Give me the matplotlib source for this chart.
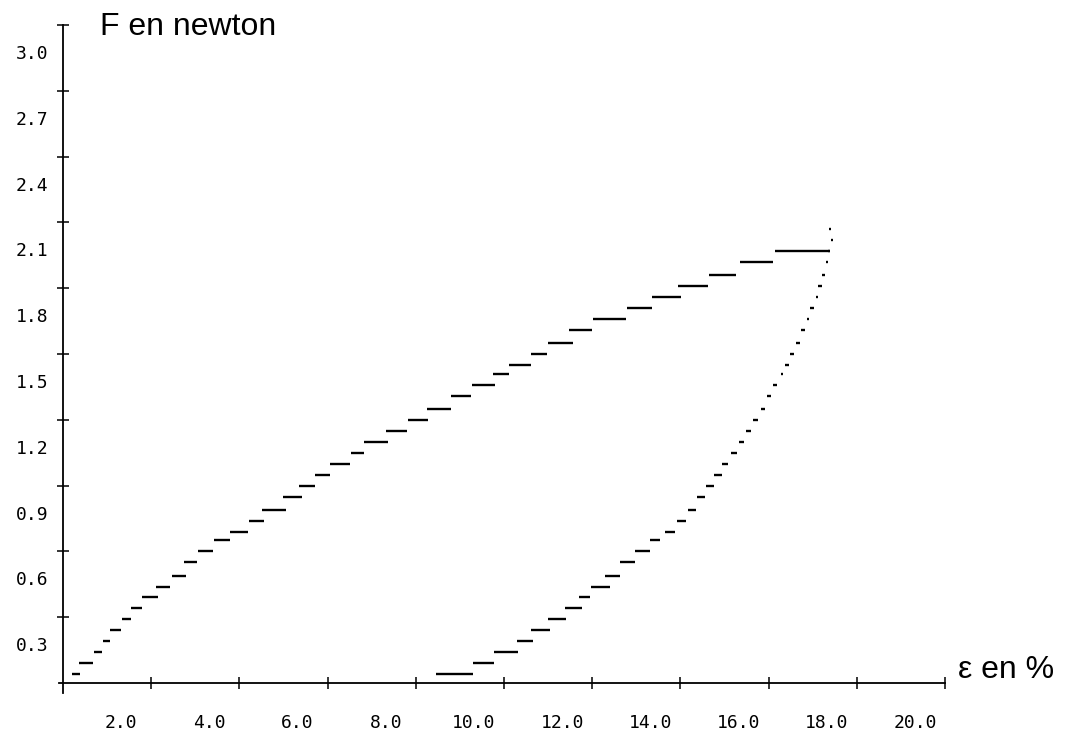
import matplotlib
matplotlib.use("Agg")
import matplotlib.pyplot as plt

# loading branch: force level (N) and strain range (%) of each plotter step
load_force = [0.04, 0.09, 0.14, 0.19, 0.24, 0.29, 0.34, 0.39, 0.44, 0.49,
              0.55, 0.60, 0.65, 0.69, 0.74, 0.79, 0.85, 0.90, 0.95, 1.00,
              1.05, 1.10, 1.15, 1.20, 1.25, 1.31, 1.36, 1.41, 1.45, 1.50,
              1.55, 1.61, 1.66, 1.71, 1.76, 1.81, 1.86, 1.92, 1.97]
load_start = [0.20, 0.36, 0.70, 0.91, 1.07, 1.34, 1.54, 1.79, 2.11, 2.47,
              2.74, 3.06, 3.42, 3.79, 4.22, 4.51, 4.99, 5.35, 5.71, 6.05,
              6.53, 6.83, 7.32, 7.82, 8.25, 8.80, 9.27, 9.75, 10.11, 10.61,
              11.00, 11.47, 12.02, 12.79, 13.36, 13.95, 14.65, 15.35, 16.15]
load_end = [0.39, 0.68, 0.88, 1.07, 1.32, 1.54, 1.79, 2.15, 2.43, 2.79,
            3.04, 3.40, 3.79, 4.20, 4.56, 5.06, 5.42, 5.71, 6.05, 6.51,
            6.83, 7.37, 7.80, 8.28, 8.80, 9.25, 9.80, 10.11, 10.61, 10.98,
            11.56, 12.00, 12.77, 13.36, 14.01, 14.63, 15.26, 16.10, 17.39]

# unloading branch
unload_force = [2.07, 2.02, 1.97, 1.92, 1.86, 1.81, 1.76, 1.71, 1.66, 1.61,
                1.55, 1.50, 1.45, 1.41, 1.36, 1.31, 1.25, 1.20, 1.15, 1.10,
                1.05, 1.00, 0.95, 0.90, 0.85, 0.79, 0.74, 0.69, 0.65, 0.60,
                0.55, 0.49, 0.44, 0.39, 0.34, 0.29, 0.24, 0.19, 0.14, 0.09, 0.04]
unload_start = [17.37, 17.41, 17.35, 17.30, 17.21, 17.12, 17.07, 16.94, 16.87, 16.73,
                16.62, 16.49, 16.37, 16.28, 16.10, 15.96, 15.83, 15.65, 15.49, 15.33,
                15.15, 14.94, 14.76, 14.58, 14.38, 14.17, 13.92, 13.65, 13.31, 12.97,
                12.63, 12.29, 11.97, 11.70, 11.38, 11.00, 10.61, 10.29, 9.77, 9.30, 8.46]
unload_end = [17.41, 17.46, 17.39, 17.35, 17.28, 17.21, 17.12, 17.03, 16.92, 16.82,
              16.71, 16.58, 16.46, 16.33, 16.19, 16.05, 15.92, 15.76, 15.60, 15.44,
              15.28, 15.08, 14.94, 14.76, 14.56, 14.35, 14.13, 13.88, 13.54, 13.31,
              12.97, 12.63, 12.40, 11.95, 11.77, 11.41, 11.04, 10.66, 10.32, 9.77, 9.30]

x_ticks = [2, 4, 6, 8, 10, 12, 14, 16, 18, 20]
x_labels = ["2.0", "4.0", "6.0", "8.0", "10.0", "12.0", "14.0", "16.0", "18.0", "20.0"]
y_ticks = [0.3, 0.6, 0.9, 1.2, 1.5, 1.8, 2.1, 2.4, 2.7, 3.0]
y_labels = ["0.3", "0.6", "0.9", "1.2", "1.5", "1.8", "2.1", "2.4", "2.7", "3.0"]

fig = plt.figure(figsize=(10.69, 7.30), dpi=100)
W, H = 1069, 730
xmin, xmax = -0.1, 20.0
ymin, ymax = -0.045, 3.0
left_px, right_px = 58.6, 945
bottom_px, top_px = 692.9, 25
ax = fig.add_axes([left_px / W, (H - bottom_px) / H,
                   (right_px - left_px) / W, (bottom_px - top_px) / H])
ax.set_xlim(xmin, xmax)
ax.set_ylim(ymin, ymax)

ax.hlines(load_force, load_start, load_end, colors="k", lw=1.7)
ax.hlines(unload_force, unload_start, unload_end, colors="k", lw=1.7)

for s in ["top", "right"]:
    ax.spines[s].set_visible(False)
ax.spines["left"].set_position(("data", 0))
ax.spines["bottom"].set_position(("data", 0))
ax.spines["left"].set_linewidth(1.3)
ax.spines["bottom"].set_linewidth(1.3)

ax.set_xticks(x_ticks)
ax.set_yticks(y_ticks)
ax.tick_params(direction="inout", length=8, width=1.1, labelbottom=False, labelleft=False)

mono = "DejaVu Sans Mono"
for v, t in zip(x_ticks, x_labels):
    ax.annotate(t, xy=(v, 0), xytext=(-30, -40), textcoords="offset pixels",
                ha="center", va="center", fontsize=13, family=mono)
for v, t in zip(y_ticks, y_labels):
    ax.annotate(t, xy=(0, v), xytext=(-15, -29), textcoords="offset pixels",
                ha="right", va="center", fontsize=13, family=mono)

fig.text(100 / W, 1 - 35 / H, "F en newton", fontsize=23, family="Liberation Sans",
         ha="left", va="baseline")
fig.text(958 / W, 1 - 670 / H, "\u03b5 en %", fontsize=23, family="Liberation Sans",
         ha="left", va="center")

fig.savefig("out.png", dpi=100)
